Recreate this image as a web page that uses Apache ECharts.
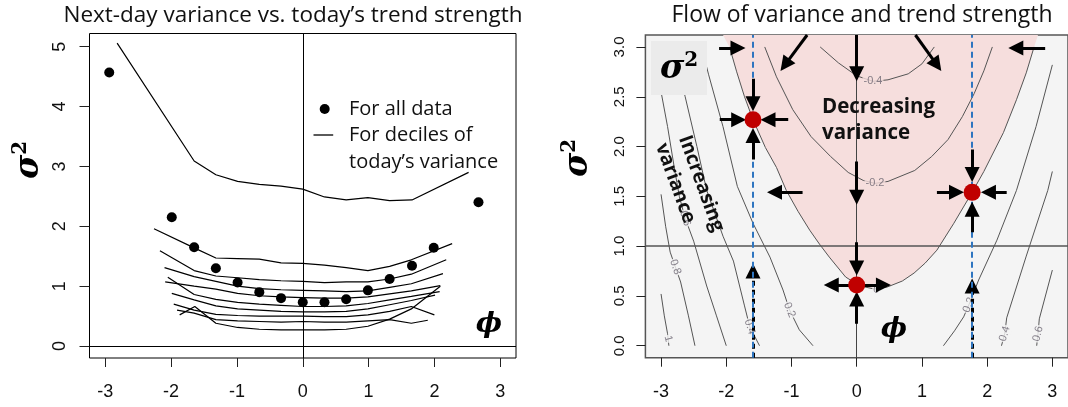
<!DOCTYPE html>
<html>
<head>
<meta charset="utf-8">
<script src="https://cdn.jsdelivr.net/npm/echarts@6/dist/echarts.min.js"></script>
<style>
html, body { margin: 0; padding: 0; background: #fff; }
#main { width: 1068px; height: 407px; }
</style>
</head>
<body>
<div id="main"></div>
<script>
// ---- tick labels
var phiTicks = [-3, -2, -1, 0, 1, 2, 3];
var varTicksLeft = [0, 1, 2, 3, 4, 5];
var varTicksRight = [0, 0.5, 1, 1.5, 2, 2.5, 3];

// ---- left panel: next-day variance per trend-strength bin
var allData = [[-2.94, 4.57], [-1.99, 2.15], [-1.65, 1.65], [-1.32, 1.30], [-0.99, 1.06], [-0.66, 0.90],
    [-0.33, 0.80], [0, 0.73], [0.33, 0.73], [0.66, 0.78], [0.99, 0.93], [1.32, 1.12], [1.66, 1.34],
    [1.99, 1.64], [2.67, 2.40]];

var decile10 = [[-2.82, 5.06], [-1.65, 3.09], [-1.32, 2.86], [-0.99, 2.75], [-0.66, 2.70], [-0.33, 2.67],
    [0, 2.62], [0.33, 2.49], [0.66, 2.44], [0.99, 2.48], [1.32, 2.43], [1.66, 2.44], [2.52, 2.90]];
var decile9 = [[-2.26, 1.96], [-1.65, 1.64], [-1.32, 1.47], [-0.99, 1.46], [-0.66, 1.45], [-0.33, 1.39],
    [0, 1.38], [0.33, 1.35], [0.66, 1.31], [0.99, 1.26], [1.32, 1.33], [1.65, 1.44], [2.27, 1.71]];
var decile8 = [[-2.17, 1.59], [-1.65, 1.26], [-1.32, 1.17], [-0.99, 1.14], [-0.66, 1.11], [-0.33, 1.09],
    [0, 1.08], [0.33, 1.06], [0.66, 1.07], [0.99, 1.07], [1.32, 1.12], [1.65, 1.20], [2.18, 1.44]];
var decile7 = [[-2.10, 1.31], [-1.65, 1.16], [-1.32, 1.08], [-0.99, 1.00], [-0.66, 0.96], [-0.33, 0.94],
    [0, 0.93], [0.33, 0.92], [0.66, 0.91], [0.99, 0.92], [1.32, 0.98], [1.65, 1.04], [2.13, 1.21]];
var decile6 = [[-2.09, 1.07], [-1.65, 1.00], [-1.32, 0.95], [-0.99, 0.88], [-0.66, 0.84], [-0.33, 0.82],
    [0, 0.81], [0.33, 0.80], [0.66, 0.80], [0.99, 0.82], [1.32, 0.87], [1.65, 0.92], [2.09, 1.01]];
var decile5 = [[-2.05, 1.15], [-1.65, 0.86], [-1.32, 0.78], [-0.99, 0.73], [-0.66, 0.70], [-0.33, 0.68],
    [0, 0.66], [0.33, 0.66], [0.66, 0.67], [0.99, 0.71], [1.32, 0.77], [1.65, 0.83], [2.08, 0.91]];
var decile4 = [[-1.99, 0.88], [-1.65, 0.77], [-1.32, 0.67], [-0.99, 0.62], [-0.66, 0.60], [-0.33, 0.58],
    [0, 0.57], [0.33, 0.57], [0.66, 0.58], [0.99, 0.62], [1.32, 0.69], [1.65, 0.76], [2.01, 0.85]];
var decile3 = [[-1.96, 0.70], [-1.65, 0.60], [-1.32, 0.53], [-0.99, 0.51], [-0.66, 0.50], [-0.33, 0.50],
    [0, 0.50], [0.33, 0.49], [0.66, 0.49], [0.99, 0.52], [1.32, 0.58], [1.65, 0.66], [2.00, 0.52]];
var decile2 = [[-1.91, 0.60], [-1.65, 0.55], [-1.32, 0.44], [-0.99, 0.42], [-0.66, 0.41], [-0.33, 0.40],
    [0, 0.41], [0.33, 0.40], [0.66, 0.40], [0.99, 0.42], [1.32, 0.44], [1.65, 0.38], [1.90, 0.43]];
var decile1 = [[-1.87, 0.52], [-1.64, 0.66], [-1.32, 0.38], [-0.99, 0.31], [-0.66, 0.28], [-0.33, 0.27],
    [0, 0.27], [0.33, 0.27], [0.66, 0.28], [0.99, 0.33], [1.32, 0.45], [1.65, 0.62], [2.09, 1.00]];
var deciles = [decile10, decile9, decile8, decile7, decile6, decile5, decile4, decile3, decile2, decile1];

// ---- right panel: flow field
var pinkRegion = [[-2.05, 3.12], [-1.95, 3.0], [-1.84, 2.75], [-1.72, 2.5], [-1.59, 2.27], [-1.40, 1.99],
    [-1.23, 1.79], [-1.08, 1.56], [-0.90, 1.35], [-0.72, 1.16], [-0.57, 1.02], [-0.42, 0.89], [-0.17, 0.69],
    [0.05, 0.60], [0.27, 0.57], [0.47, 0.59], [0.70, 0.65], [0.88, 0.73], [1.05, 0.83], [1.23, 0.96],
    [1.49, 1.23], [1.77, 1.54], [1.95, 1.75], [2.25, 2.14], [2.45, 2.47], [2.60, 2.74], [2.72, 3.0], [2.78, 3.12]];

var contourM04 = [[-0.56, 3.0], [-0.28, 2.84], [0, 2.71], [0.25, 2.655], [0.48, 2.67], [0.79, 2.73], [1.0, 2.83], [1.19, 3.0]];
var contourM02 = [[-1.41, 3.0], [-1.23, 2.70], [-0.98, 2.37], [-0.70, 2.10], [-0.40, 1.90], [-0.13, 1.74],
    [0.10, 1.66], [0.28, 1.63], [0.48, 1.65], [0.89, 1.76], [1.15, 1.90], [1.40, 2.07], [1.62, 2.30],
    [1.80, 2.53], [1.95, 2.76], [2.08, 3.0]];
var contourZero = pinkRegion.slice(1, -1);
var contour02L = [[-2.38, 3.0], [-2.27, 2.72], [-2.05, 2.2], [-1.83, 1.6], [-1.59, 1.23], [-1.33, 0.89],
    [-1.13, 0.56], [-1.03, 0.36], [-0.88, 0.16], [-0.67, 0.0]];
var contour04L = [[-2.82, 3.0], [-2.63, 2.50], [-2.45, 2.0], [-2.30, 1.56], [-2.05, 1.1], [-1.89, 0.85],
    [-1.72, 0.40], [-1.64, 0.19], [-1.49, 0.0]];
var contour06L = [[-3.0, 2.55], [-2.9, 2.2], [-2.8, 1.8], [-2.72, 1.5], [-2.63, 1.28], [-2.5, 1.05],
    [-2.3, 0.6], [-2.15, 0.3], [-2.0, 0.0]];
var contour08L = [[-3.0, 1.52], [-2.93, 1.2], [-2.86, 0.94], [-2.78, 0.79], [-2.70, 0.64], [-2.58, 0.3], [-2.48, 0.0]];
var contour1L = [[-3.0, 0.52], [-2.95, 0.3], [-2.90, 0.12], [-2.88, 0.0]];
var contour02R = [[1.33, 0.0], [1.50, 0.15], [1.64, 0.29], [1.72, 0.41], [1.87, 0.66], [2.15, 1.06],
    [2.45, 1.56], [2.75, 2.2], [3.0, 2.82]];
var contour04R = [[2.22, 0.0], [2.27, 0.12], [2.30, 0.28], [2.6, 0.9], [2.93, 1.56], [3.0, 1.75]];
var contour06R = [[2.76, 0.0], [2.78, 0.12], [2.80, 0.27], [3.0, 0.76]];
var contours = [contourM04, contourM02, contourZero, contour02L, contour04L, contour06L, contour08L,
    contour1L, contour02R, contour04R, contour06R];

var contourLabels = [[0.25, 2.655, '-0.4'], [0.28, 1.63, '-0.2'], [0.30, 0.565, '0'], [-1.03, 0.36, '0.2'],
    [-1.64, 0.19, '0.4'], [-2.63, 1.28, '0.6'], [-2.78, 0.79, '0.8'], [-2.89, 0.07, '1'],
    [1.72, 0.41, '0.2'], [2.27, 0.12, '0.4'], [2.78, 0.12, '0.6']];

// arrows: [from phi, from var, to phi, to var]
var flowArrows = [
    [-2.11, 2.99, -1.82, 2.99], [-0.76, 3.12, -1.10, 2.82], [0, 3.12, 0, 2.73], [0.90, 3.12, 1.23, 2.82],
    [2.89, 2.99, 2.44, 2.99],
    [-1.59, 2.68, -1.59, 2.43], [-2.10, 2.27, -1.81, 2.27], [-1.05, 2.27, -1.36, 2.27], [-1.59, 1.87, -1.59, 2.11],
    [-0.83, 1.54, -1.26, 1.54], [0, 1.85, 0, 1.49], [0, 1.04, 0, 0.78],
    [0, 0.61, -0.39, 0.61], [0, 0.61, 0.41, 0.61], [0, 0.22, 0, 0.47],
    [1.77, 1.97, 1.77, 1.72], [1.23, 1.54, 1.53, 1.54], [2.30, 1.54, 2.02, 1.54], [1.77, 1.14, 1.77, 1.37]
];
var riseArrows = [[-1.59, -0.12, -1.59, 0.75], [1.77, -0.12, 1.77, 0.60]];
var equilibria = [[-1.59, 2.27], [1.77, 1.54], [0, 0.61]];
var trendLines = [-1.59, 1.77];

var chart = echarts.init(document.getElementById('main'));

function xAxisFor(gi) {
    return {
        type: 'value', gridIndex: gi, min: -3.24, max: 3.24,
        axisLine: { show: false, onZero: false },
        splitLine: { show: false },
        axisTick: { show: true, length: 9, customValues: phiTicks, lineStyle: { color: '#222' } },
        axisLabel: { customValues: phiTicks, margin: 25, fontSize: 18, color: '#111', fontFamily: 'Liberation Sans' }
    };
}

var labelAngles = [0, 0, -10, -68, -72, -72, -71, -75, 68, 72, 75];

var series = [];
deciles.forEach(function (d, i) {
    series.push({
        type: 'line', name: 'For deciles of today’s variance', xAxisIndex: 0, yAxisIndex: 0,
        data: d, symbol: 'none', lineStyle: { color: '#000', width: 1.2 }, silent: true, z: 3
    });
});
series.push({
    type: 'scatter', name: 'For all data', xAxisIndex: 0, yAxisIndex: 0, data: allData,
    symbolSize: 10, itemStyle: { color: '#000', opacity: 1 }, z: 4,
    markLine: {
        silent: true, symbol: ['none', 'none'], label: { show: false },
        lineStyle: { color: '#000', width: 1, type: 'solid' },
        data: [{ xAxis: 0 }, { yAxis: 0 }]
    }
});

// right panel
series.push({
    type: 'custom', xAxisIndex: 1, yAxisIndex: 1, data: [[0, 0]], silent: true, z: 1,
    renderItem: function (params, api) {
        return {
            type: 'polygon',
            shape: { points: pinkRegion.map(function (p) { return api.coord(p); }) },
            style: { fill: '#f6dedd' }
        };
    }
});
contours.forEach(function (c) {
    series.push({
        type: 'line', xAxisIndex: 1, yAxisIndex: 1, data: c, symbol: 'none', silent: true, z: 2,
        lineStyle: { color: '#555', width: 1 }
    });
});
series.push({
    type: 'scatter', xAxisIndex: 1, yAxisIndex: 1, symbolSize: 1, silent: true, z: 3,
    itemStyle: { color: 'transparent' },
    data: contourLabels.map(function (l, i) {
        return {
            value: [l[0], l[1]], name: l[2],
            label: {
                show: true, position: 'inside', formatter: '{b}', rotate: labelAngles[i],
                fontSize: 11, color: '#6a6470', fontFamily: 'Liberation Sans',
                backgroundColor: i < 2 ? '#f6dedd' : '#f4f4f4', padding: [0, 1]
            }
        };
    }),
    markLine: {
        silent: true, symbol: ['none', 'none'], label: { show: false },
        data: [
            { yAxis: 1, lineStyle: { color: '#555', width: 1.5, type: 'solid' } },
            { xAxis: 0, lineStyle: { color: '#444', width: 1, type: 'solid' } }
        ].concat(trendLines.map(function (t) {
            return { xAxis: t, lineStyle: { color: '#2e75c0', width: 2, type: [6, 4] } };
        }))
    }
});
series.push({
    type: 'lines', coordinateSystem: 'cartesian2d', xAxisIndex: 1, yAxisIndex: 1, silent: true, z: 5,
    symbol: ['none', 'triangle'], symbolSize: 15,
    lineStyle: { color: '#000', width: 3, opacity: 1 },
    data: flowArrows.map(function (a) { return { coords: [[a[0], a[1]], [a[2], a[3]]] }; })
});
series.push({
    type: 'lines', coordinateSystem: 'cartesian2d', xAxisIndex: 1, yAxisIndex: 1, silent: true, z: 4,
    symbol: ['none', 'triangle'], symbolSize: 15,
    lineStyle: { color: '#000', width: 3, type: [5, 4], opacity: 1 },
    data: riseArrows.map(function (a) { return { coords: [[a[0], a[1]], [a[2], a[3]]] }; })
});
series.push({
    type: 'scatter', xAxisIndex: 1, yAxisIndex: 1, data: equilibria, symbolSize: 17, z: 6,
    itemStyle: { color: '#c00000', opacity: 1 }
});

var serif = 'DejaVu Serif';
function sigmaText(x, y, rot) {
    return {
        type: 'text', x: x, y: y, rotation: rot, z: 110,
        style: {
            text: '{a|σ}{b|2}', align: 'center', verticalAlign: 'middle',
            rich: {
                a: { fontSize: 33, fontWeight: 'bold', fontStyle: 'italic', fontFamily: serif, fill: '#000', lineHeight: 36 },
                b: { fontSize: 20, fontWeight: 'bold', fontFamily: serif, fill: '#000', verticalAlign: 'top', lineHeight: 36 }
            }
        }
    };
}
function phiText(x, y) {
    return {
        type: 'text', x: x, y: y, z: 110,
        style: { text: 'ϕ', align: 'center', verticalAlign: 'middle', fontSize: 28, fontWeight: 'bold',
            fontStyle: 'italic', fontFamily: serif, fill: '#000' }
    };
}
var sans = 'Open Sans';
function note(x, y, text, size, rot) {
    return { type: 'text', z: 110, x: x, y: y, rotation: rot || 0,
        style: { text: text, fontSize: size, fontWeight: 'bold', fontFamily: sans, fill: '#111', verticalAlign: 'middle' } };
}
function legendText(y, text) {
    return { type: 'text', z: 110, x: 349, y: y,
        style: { text: text, fontSize: 20, fontFamily: sans, fill: '#111', verticalAlign: 'middle' } };
}
var tilt = -70 * Math.PI / 180;
var graphic = [
    sigmaText(29, 160, Math.PI / 2),
    sigmaText(578, 158, Math.PI / 2),
    phiText(489, 325),
    phiText(894, 330),
    { type: 'rect', z: 100, shape: { x: 651, y: 41, width: 56, height: 54 }, style: { fill: '#ebebeb' } },
    sigmaText(679, 69, 0),
    // legend
    { type: 'circle', z: 110, shape: { cx: 324.7, cy: 109, r: 5 }, style: { fill: '#000' } },
    { type: 'line', z: 110, shape: { x1: 313.5, y1: 135, x2: 333.2, y2: 135 }, style: { stroke: '#000', lineWidth: 1.3 } },
    legendText(109, 'For all data'),
    legendText(135, 'For deciles of'),
    legendText(162, 'today’s variance'),
    // region notes
    note(822, 107, 'Decreasing', 20.5),
    note(822, 133, 'variance', 20.5),
    note(684, 136, 'Increasing', 19.5, tilt),
    note(661, 144, 'variance', 19.5, tilt)
];

var titleStyle = { fontFamily: sans, fontSize: 22.5, fontWeight: 'normal', color: '#111' };
var option = {
    animation: false,
    backgroundColor: '#fff',
    title: [
        { text: 'Next-day variance vs. today’s trend strength', left: 288, top: -1, textAlign: 'center', textStyle: titleStyle },
        { text: 'Flow of variance and trend strength', left: 857, top: -1, textAlign: 'center',
            textStyle: { fontFamily: sans, fontSize: 23, fontWeight: 'normal', color: '#111' } }
    ],
    grid: [
        { left: 89.5, top: 33.5, width: 426.5, height: 324.5, show: true, borderColor: '#000', borderWidth: 1,
            backgroundColor: 'transparent' },
        { left: 645.4, top: 35, width: 425.7, height: 322.7, show: true, borderColor: '#555', borderWidth: 1.5,
            backgroundColor: '#f4f4f4' }
    ],
    xAxis: [xAxisFor(0), xAxisFor(1)],
    yAxis: [
        { type: 'value', gridIndex: 0, min: -0.2, max: 5.22,
            axisLine: { show: false, onZero: false }, splitLine: { show: false },
            axisTick: { show: true, length: 10, customValues: varTicksLeft, lineStyle: { color: '#222' } },
            axisLabel: { customValues: varTicksLeft, rotate: 90, margin: 20, fontSize: 18, color: '#111', fontFamily: 'Liberation Sans' } },
        { type: 'value', gridIndex: 1, min: -0.12, max: 3.12,
            axisLine: { show: false, onZero: false }, splitLine: { show: false },
            axisTick: { show: true, length: 9, customValues: varTicksRight, lineStyle: { color: '#222' } },
            axisLabel: { customValues: varTicksRight, rotate: 90, margin: 18, fontSize: 15, color: '#111',
                fontFamily: 'Liberation Sans', formatter: function (v) { return v.toFixed(1); } } }
    ],
    series: series,
    graphic: graphic
};
chart.setOption(option);
</script>
</body>
</html>
